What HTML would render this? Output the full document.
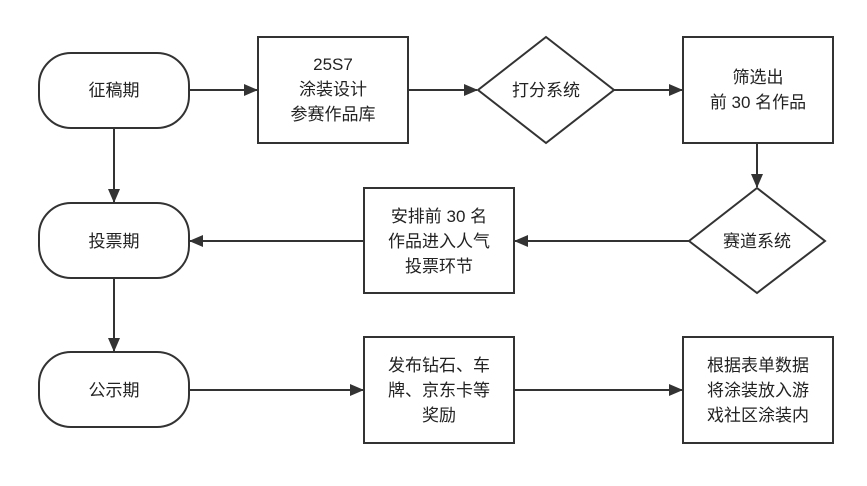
<!DOCTYPE html>
<html><head><meta charset="utf-8"><style>
body{margin:0;background:#fff;}
svg text{font-family:"Liberation Sans","Noto Sans CJK SC",sans-serif;font-size:17px;fill:#222;text-anchor:middle;}
</style></head><body>
<svg width="867" height="481" viewBox="0 0 867 481" xmlns="http://www.w3.org/2000/svg">
<defs><marker id="b" markerWidth="14" markerHeight="12" refX="13" refY="6" orient="auto" markerUnits="userSpaceOnUse"><path d="M0,0 L14,6 L0,12 z" fill="#333"/></marker></defs>
<g fill="#fff" stroke="#333" stroke-width="2">
<rect x="39" y="53" width="150" height="75" rx="32"/>
<rect x="39" y="203" width="150" height="75" rx="32"/>
<rect x="39" y="352" width="150" height="75" rx="32"/>
<rect x="258" y="37" width="150" height="106"/>
<polygon points="546,37 614,90 546,143 478,90"/>
<rect x="683" y="37" width="150" height="106"/>
<polygon points="757,188 825,241 757,293 689,241"/>
<rect x="364" y="188" width="150" height="105"/>
<rect x="364" y="337" width="150" height="106"/>
<rect x="683" y="337" width="150" height="106"/>
</g>
<g stroke="#333" stroke-width="2" fill="none" marker-end="url(#b)">
<line x1="189" y1="90" x2="257" y2="90"/>
<line x1="408" y1="90" x2="477" y2="90"/>
<line x1="614" y1="90" x2="682" y2="90"/>
<line x1="757" y1="143" x2="757" y2="187"/>
<line x1="689" y1="241" x2="515" y2="241"/>
<line x1="364" y1="241" x2="190" y2="241"/>
<line x1="114" y1="128" x2="114" y2="202"/>
<line x1="114" y1="278" x2="114" y2="351"/>
<line x1="189" y1="390" x2="363" y2="390"/>
<line x1="514" y1="390" x2="682" y2="390"/>
</g>
<text x="114" y="96">征稿期</text>
<text x="114" y="247">投票期</text>
<text x="114" y="396">公示期</text>
<text x="333" y="70">25S7</text>
<text x="333" y="95">涂装设计</text>
<text x="333" y="120">参赛作品库</text>
<text x="546" y="96">打分系统</text>
<text x="758" y="83">筛选出</text>
<text x="758" y="108">前 30 名作品</text>
<text x="757" y="247">赛道系统</text>
<text x="439" y="222">安排前 30 名</text>
<text x="439" y="247">作品进入人气</text>
<text x="439" y="272">投票环节</text>
<text x="439" y="371">发布钻石、车</text>
<text x="439" y="396">牌、京东卡等</text>
<text x="439" y="421">奖励</text>
<text x="758" y="371">根据表单数据</text>
<text x="758" y="396">将涂装放入游</text>
<text x="758" y="421">戏社区涂装内</text>
</svg>
</body></html>
